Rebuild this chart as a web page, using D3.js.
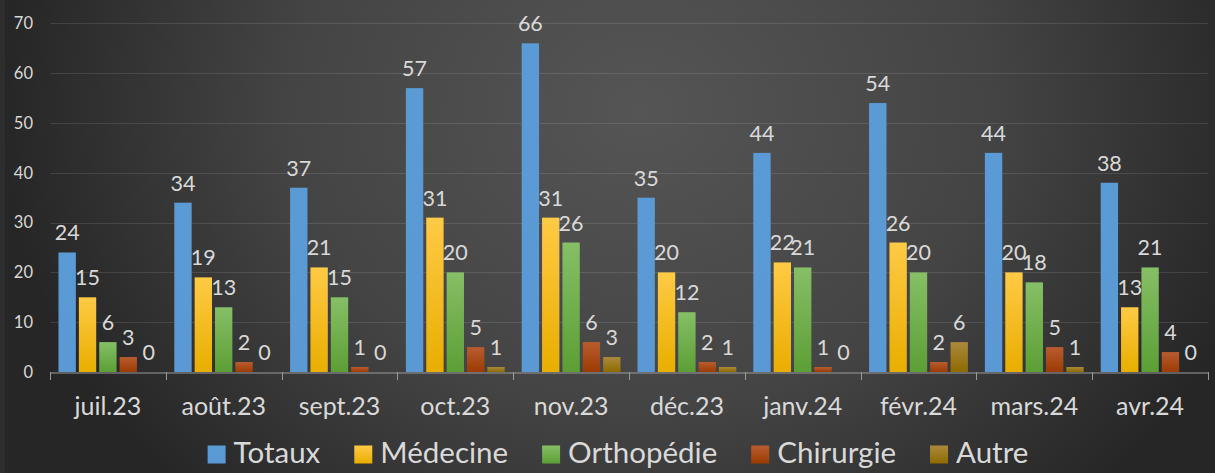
<!DOCTYPE html>
<html><head><meta charset="utf-8">
<script src="https://cdn.jsdelivr.net/npm/d3@7"></script>
<style>
html,body{margin:0;padding:0;background:#2a2a2a;overflow:hidden}
svg{display:block}
text{font-family:Lato,"Open Sans",sans-serif;fill:#d9d9d9}
</style></head><body>
<svg id="c" width="1215" height="473"></svg>
<script>
const categories = ["juil.23","août.23","sept.23","oct.23","nov.23","déc.23","janv.24","févr.24","mars.24","avr.24"];
const seriesNames = ["Totaux","Médecine","Orthopédie","Chirurgie","Autre"];
const totaux     = [24,34,37,57,66,35,44,54,44,38];
const medecine   = [15,19,21,31,31,20,22,26,20,13];
const orthopedie = [6,13,15,20,26,12,21,20,18,21];
const chirurgie  = [3,2,1,5,6,2,1,2,5,4];
const autre      = [0,0,0,1,3,1,0,6,1,0];
const yTicks = [0,10,20,30,40,50,60,70];

const seriesValues = [totaux, medecine, orthopedie, chirurgie, autre];
const colors = [
  ["#5B9BD5","#5A99D3"],
  ["#FFCA45","#E8AE00"],
  ["#86BF66","#5C9F35"],
  ["#B85C30","#9C3B02"],
  ["#AA8A3C","#8F6A00"]
];

const W = 1215, H = 473;
const svg = d3.select("#c");
const defs = svg.append("defs");

const bg = defs.append("radialGradient").attr("id","bg")
  .attr("gradientUnits","userSpaceOnUse")
  .attr("cx",640).attr("cy",110).attr("r",640)
  .attr("gradientTransform","translate(640,110) scale(1,0.85) translate(-640,-110)");
bg.append("stop").attr("offset","0%").attr("stop-color","#555555");
bg.append("stop").attr("offset","55%").attr("stop-color","#444444");
bg.append("stop").attr("offset","100%").attr("stop-color","#262626");
svg.append("rect").attr("width",W).attr("height",H).attr("fill","url(#bg)");
svg.append("rect").attr("width",5).attr("height",H).attr("fill","#2e2e2e");

colors.forEach((c,i)=>{
  const g = defs.append("linearGradient").attr("id","g"+i).attr("x1",0).attr("y1",0).attr("x2",0).attr("y2",1);
  g.append("stop").attr("offset","0%").attr("stop-color",c[0]);
  g.append("stop").attr("offset","100%").attr("stop-color",c[1]);
});

const x0 = 50, x1 = 1208, yBase = 372, yTop = 23.4;
const x = d3.scaleBand().domain(categories).range([x0,x1]).padding(0);
const sub = d3.scaleBand().domain(seriesNames).range([8.5, x.bandwidth()-8.5]).paddingInner(0.148).paddingOuter(0);
const y = d3.scaleLinear().domain([0,70]).range([yBase,yTop]);

// gridlines
svg.append("g").selectAll("line").data(yTicks.filter(t=>t>0)).join("line")
  .attr("x1",x0).attr("x2",x1).attr("y1",d=>Math.round(y(d))+0.5).attr("y2",d=>Math.round(y(d))+0.5)
  .attr("stroke","rgba(255,255,255,0.11)").attr("stroke-width",1);

// y labels
svg.append("g").selectAll("text").data(yTicks).join("text")
  .attr("x",33).attr("y",d=>y(d)).attr("dy","0.35em").attr("text-anchor","end")
  .style("font-size","16.5px").text(d=>d);

// bars
const groups = svg.append("g").selectAll("g").data(categories).join("g")
  .attr("transform",d=>`translate(${x(d)},0)`);
groups.each(function(cat,ci){
  const g = d3.select(this);
  seriesNames.forEach((s,si)=>{
    const v = seriesValues[si][ci];
    if (v>0) g.append("rect").attr("x",sub(s)).attr("width",sub.bandwidth())
      .attr("y",y(v)).attr("height",y(0)-y(v)).attr("fill",`url(#g${si})`);
    g.append("text").attr("x",sub(s)+sub.bandwidth()/2).attr("y",y(v)-12)
      .attr("text-anchor","middle").style("font-size","21.5px").text(v);
  });
});

// x axis
const ax = svg.append("g").attr("transform",`translate(0,${yBase+0.5})`)
  .call(d3.axisBottom(x).tickSize(0).tickFormat(""));
ax.select(".domain").attr("stroke","#9a9a9a");
ax.selectAll(".tick").remove();
const bounds = categories.map(c=>x(c)).concat([x1]);
svg.append("g").selectAll("line").data(bounds).join("line")
  .attr("x1",d=>Math.round(d)+0.5).attr("x2",d=>Math.round(d)+0.5)
  .attr("y1",yBase).attr("y2",yBase+8).attr("stroke","#9a9a9a");
svg.append("g").selectAll("text").data(categories).join("text")
  .attr("x",d=>x(d)+x.bandwidth()/2).attr("y",415).attr("text-anchor","middle")
  .style("font-size","25px").text(d=>d);

// legend
const leg = svg.append("g");
let cx = 0;
const items = seriesNames.map((s,i)=>{
  const it = leg.append("g");
  it.append("rect").attr("x",0).attr("y",445.5).attr("width",18).attr("height",18).attr("fill",`url(#g${i})`);
  const t = it.append("text").attr("x",26).attr("y",462.5).style("font-size",'29.5px').text(s);
  const w = 26 + t.node().getComputedTextLength();
  it.attr("transform",`translate(${cx},0)`);
  cx += w + 34;
  return it;
});
const total = cx - 34;
leg.attr("transform",`translate(${618 - total/2},0)`);
</script>
</body></html>
